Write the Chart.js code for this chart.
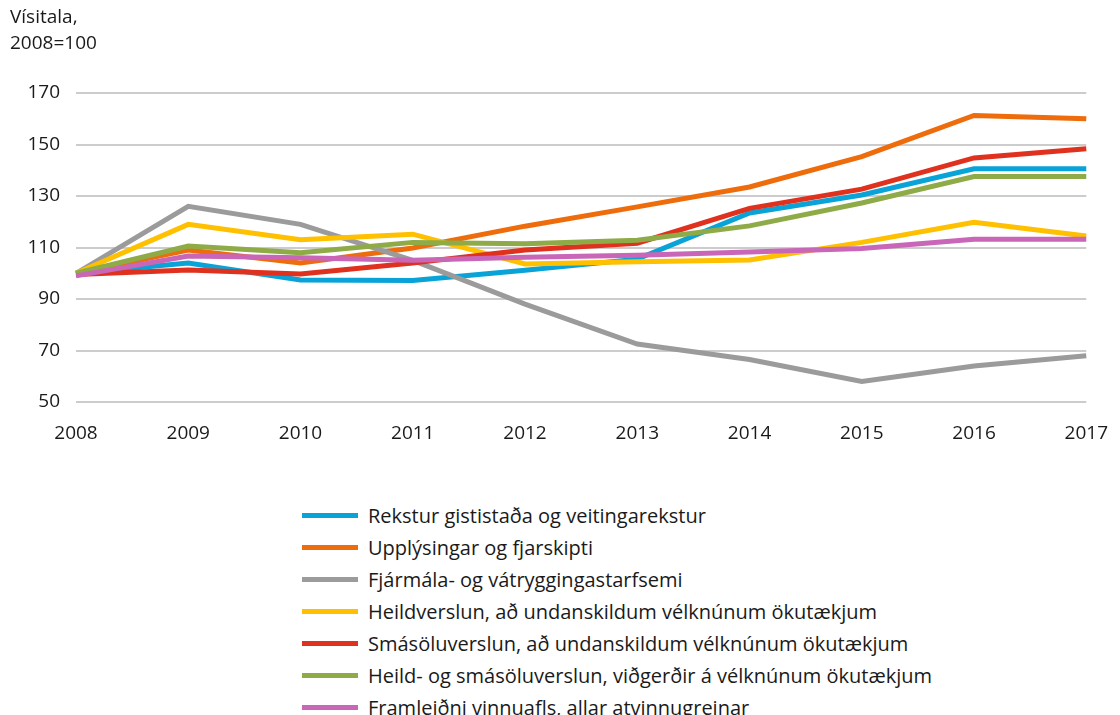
<!DOCTYPE html>
<html>
<head>
<meta charset="utf-8">
<script src="https://cdn.jsdelivr.net/npm/chart.js@4.4.0/dist/chart.umd.min.js"></script>
<style>
  html, body { margin: 0; padding: 0; background: #fff; overflow: hidden; }
  #wrap { position: absolute; left: 0; top: 0; width: 1120px; height: 450px; }
  #legend { position: absolute; left: 302px; top: 499px; font-family: "Open Sans", sans-serif; font-size: 20px; color: #1a1a1a; }
  .item { height: 32px; display: flex; align-items: center; white-space: nowrap; }
  .swatch { display: inline-block; width: 56px; height: 5px; margin-right: 10px; }
</style>
</head>
<body>
<div id="wrap"><canvas id="chart"></canvas></div>
<div id="legend"></div>
<script>
const years = ['2008', '2009', '2010', '2011', '2012', '2013', '2014', '2015', '2016', '2017'];
const yTicks = [50, 70, 90, 110, 130, 150, 170];

const rekstur = [100, 104, 97.4, 97.2, 101.2, 105.5, 123.4, 130.4, 140.6, 140.6];
const upplysingar = [100, 109, 104, 109.8, 118.3, 125.8, 133.5, 145.3, 161.3, 160];
const fjarmala = [100, 126, 119, 105, 88, 72.5, 66.5, 58, 64, 68];
const heildverslun = [100, 119, 113, 115.2, 103.6, 104.5, 105.2, 112, 119.8, 114.5];
const smasolu = [99.5, 101.3, 99.7, 104, 109, 111.7, 125.2, 132.7, 144.8, 148.4];
const heildSmasolu = [100, 110.6, 108, 112, 111.5, 112.8, 118.4, 127.3, 137.6, 137.6];
const framleidni = [99, 106.7, 106, 105.1, 106.2, 107, 108.3, 109.6, 113.2, 113.2];

const series = [
  { label: 'Rekstur gististaða og veitingarekstur', data: rekstur, color: '#0aa3d8' },
  { label: 'Upplýsingar og fjarskipti', data: upplysingar, color: '#ee6c0b' },
  { label: 'Fjármála- og vátryggingastarfsemi', data: fjarmala, color: '#9b9b9b' },
  { label: 'Heildverslun, að undanskildum vélknúnum ökutækjum', data: heildverslun, color: '#ffc000' },
  { label: 'Smásöluverslun, að undanskildum vélknúnum ökutækjum', data: smasolu, color: '#e0301e' },
  { label: 'Heild- og smásöluverslun, viðgerðir á vélknúnum ökutækjum', data: heildSmasolu, color: '#8eab47' },
  { label: 'Framleiðni vinnuafls, allar atvinnugreinar', data: framleidni, color: '#c966b8' }
];

const font = 'Open Sans';

const chart = new Chart(document.getElementById('chart'), {
  type: 'line',
  data: {
    labels: years,
    datasets: series.map((s, i) => ({
      label: s.label,
      data: s.data,
      borderColor: s.color,
      backgroundColor: s.color,
      borderWidth: 5,
      pointRadius: 0,
      tension: 0,
      fill: false,
      // later series on top, like the original
      order: series.length - i
    }))
  },
  options: {
    responsive: true,
    maintainAspectRatio: false,
    animation: false,
    layout: { padding: { top: 5, left: 10, right: 32, bottom: 0 } },
    scales: {
      x: {
        grid: { display: false },
        border: { display: false },
        ticks: { color: '#1a1a1a', font: { family: font, size: 19 }, padding: 12, maxRotation: 0, autoSkip: false },
        afterFit: scale => { scale.height = 48; }
      },
      y: {
        min: 50,
        max: 170,
        afterBuildTicks: scale => { scale.ticks = yTicks.map(v => ({ value: v })); },
        grid: { color: '#cccccc', lineWidth: 2, drawTicks: false },
        border: { display: false },
        ticks: { color: '#1a1a1a', font: { family: font, size: 19 }, padding: 16 },
        afterFit: scale => { scale.width = 66; }
      }
    },
    plugins: {
      legend: { display: false },
      tooltip: { enabled: false },
      title: {
        display: true,
        text: ['Vísitala,', '2008=100'],
        align: 'start',
        color: '#1a1a1a',
        font: { family: font, size: 19, weight: 'normal', lineHeight: 1.37 },
        padding: { top: 0, bottom: 36 }
      }
    }
  }
});

const legend = document.getElementById('legend');
chart.data.datasets.forEach(ds => {
  const row = document.createElement('div');
  row.className = 'item';
  const sw = document.createElement('span');
  sw.className = 'swatch';
  sw.style.background = ds.borderColor;
  const txt = document.createElement('span');
  txt.textContent = ds.label;
  row.appendChild(sw);
  row.appendChild(txt);
  legend.appendChild(row);
});
</script>
</body>
</html>
